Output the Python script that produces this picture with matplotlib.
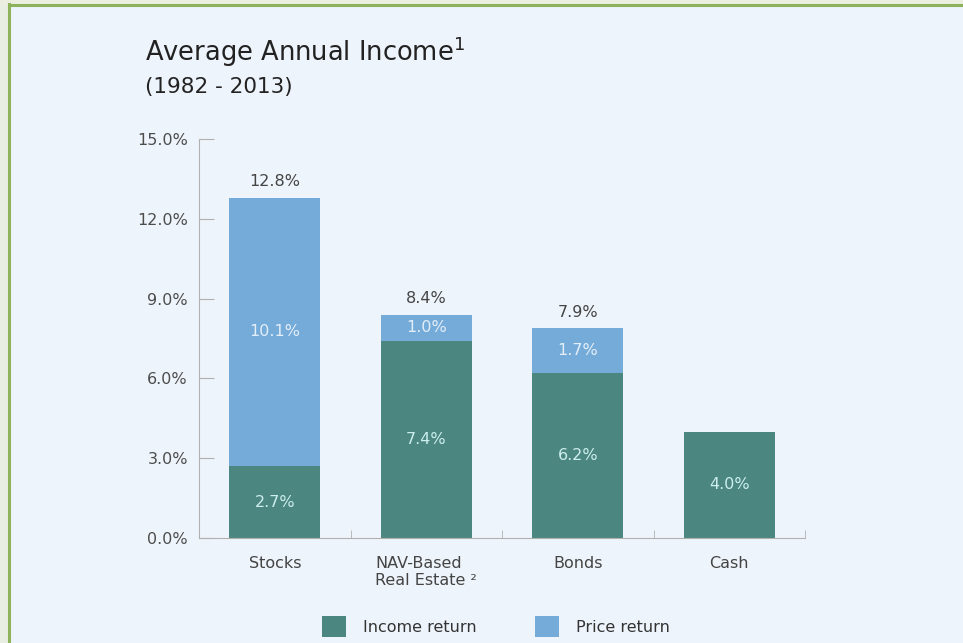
import matplotlib.pyplot as plt
from matplotlib.patches import Rectangle

categories = ["Stocks", "NAV-Based\nReal Estate \u00b2", "Bonds", "Cash"]
income = [2.7, 7.4, 6.2, 4.0]
price = [10.1, 1.0, 1.7, 0.0]
yticks = [0, 3, 6, 9, 12, 15]

c_income = "#4b8680"
c_price = "#74abd9"
bg = "#eef4fb"

fig = plt.figure(figsize=(9.63, 6.43), dpi=100, facecolor=bg)

# outer strip + green frame (left and top)
fig.patches.append(Rectangle((0, 0), 8 / 963, 1, transform=fig.transFigure,
                             facecolor="#e8efe2", edgecolor="none", zorder=0))
fig.patches.append(Rectangle((0, 1 - 4 / 643), 1, 4 / 643, transform=fig.transFigure,
                             facecolor="#eceee0", edgecolor="none", zorder=0))
fig.add_artist(plt.Line2D([9 / 963, 9 / 963], [0, 1 - 4 / 643], transform=fig.transFigure,
                          color="#8db35a", lw=2.2))
fig.add_artist(plt.Line2D([9 / 963, 1], [1 - 4.5 / 643, 1 - 4.5 / 643], transform=fig.transFigure,
                          color="#8db35a", lw=2.2))

ax = fig.add_axes([199 / 963, 1 - 538 / 643, 606 / 963, 399 / 643])
ax.set_facecolor(bg)

x = range(len(categories))
ax.bar(x, income, width=0.6, color=c_income, label="Income return", zorder=2)
ax.bar(x, price, width=0.6, bottom=income, color=c_price, label="Price return", zorder=2)

fs = 11.5
for i in x:
    ax.text(i, income[i] / 2, f"{income[i]:.1f}%", ha="center", va="center",
            color="#cdeeed", fontsize=fs, zorder=3)
    if price[i] > 0:
        ax.text(i, income[i] + price[i] / 2, f"{price[i]:.1f}%", ha="center", va="center",
                color="#e4eef8", fontsize=fs, zorder=3)
        tot = income[i] + price[i]
        ax.annotate(f"{tot:.1f}%", (i, tot), xytext=(0, 6), textcoords="offset points",
                    ha="center", va="bottom", color="#444444", fontsize=fs)

ax.set_xlim(-0.5, 3.5)
ax.set_ylim(0, 15)
ax.set_yticks(yticks)
ax.set_yticklabels([f"{v:.1f}%" for v in yticks])
ax.set_xticks(list(x))
ax.set_xticklabels(categories, multialignment="left")
ax.set_xticks([0.5, 1.5, 2.5, 3.5], minor=True)

for s in ["top", "right"]:
    ax.spines[s].set_visible(False)
for s in ["left", "bottom"]:
    ax.spines[s].set_color("#b0b0b0")
ax.tick_params(axis="y", direction="in", length=11, color="#b0b0b0", labelsize=fs,
               labelcolor="#4d4d4d", pad=8)
ax.tick_params(axis="x", which="major", length=0, labelsize=fs, labelcolor="#444444", pad=13)
ax.tick_params(axis="x", which="minor", direction="in", length=6, color="#b0b0b0")

ax.legend(loc="upper center", bbox_to_anchor=(0.49, -0.16), ncol=2, frameon=False,
          handlelength=1.5, handleheight=1.6, columnspacing=3.6, handletextpad=1.1,
          fontsize=fs, labelcolor="#333333")

fig.text(145 / 963, 1 - 61 / 643, r"Average Annual Income$^1$", fontsize=18.5,
         color="#222222", va="baseline")
fig.text(145 / 963, 1 - 93 / 643, "(1982 - 2013)", fontsize=15.5, color="#222222",
         va="baseline")

fig.savefig("out.png", dpi=100, facecolor=bg)
